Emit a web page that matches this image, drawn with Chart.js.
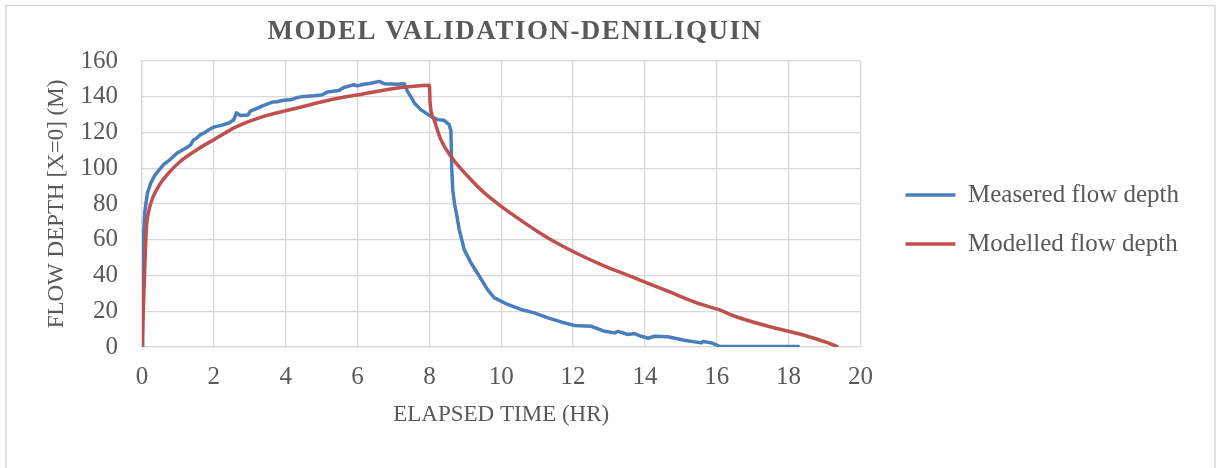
<!DOCTYPE html>
<html>
<head>
<meta charset="utf-8">
<script src="https://cdn.jsdelivr.net/npm/chart.js@4.4.1/dist/chart.umd.min.js"></script>
<style>
  html, body { margin: 0; padding: 0; background: #ffffff; }
  canvas { display: block; }
</style>
</head>
<body>
<canvas id="myChart" width="1218" height="468"></canvas>
<script>
const chartTitle = 'MODEL VALIDATION-DENILIQUIN';
const xTitle = 'ELAPSED TIME (HR)';
const yTitle = 'FLOW DEPTH [X=0] (M)';
const seriesNames = ['Measered flow depth', 'Modelled flow depth'];

// measured depth at the gauge, hours / m
const measuredTime = [0, 0.02, 0.04, 0.08, 0.15, 0.25, 0.37, 0.6, 0.79, 0.98, 1.2, 1.35, 1.44, 1.5,
  1.63, 1.75, 1.86, 1.95, 2.0, 2.2, 2.42, 2.55, 2.63, 2.74, 2.95, 3.02, 3.2, 3.39, 3.63, 3.76,
  3.94, 4.14, 4.33, 4.5, 4.79, 5.0, 5.16, 5.48, 5.62, 5.81, 5.9, 5.99, 6.18, 6.37, 6.6, 6.74,
  7.11, 7.3, 7.39, 7.5, 7.58, 7.76, 8.04, 8.23, 8.41, 8.55, 8.6, 8.62, 8.65, 8.7, 8.76, 8.83,
  8.97, 9.16, 9.39, 9.62, 9.81, 10.18, 10.55, 10.92, 11.3, 11.76, 12.04, 12.5, 12.88, 13.15,
  13.25, 13.53, 13.71, 13.9, 14.09, 14.27, 14.64, 15.1, 15.57, 15.62, 15.85, 16.08, 16.7, 18.27];
const measuredDepth = [0, 40, 62, 76, 86, 92, 96.5, 102, 105, 108.5, 111, 113, 116, 116.5,
  118.8, 120, 121.5, 122.5, 123, 124, 125.3, 127, 131, 129.5, 129.8, 132, 133.5, 135.2, 137, 137.2,
  138, 138.3, 139.6, 140.2, 140.6, 141, 142.6, 143.5, 145.2, 146.2, 146.7, 146.1, 147, 147.6, 148.6, 147.3,
  147, 147.3, 143, 139.5, 136.5, 132.8, 129, 127.2, 126.8, 124.4, 121, 101, 88, 80, 74, 65.7,
  54.5, 47, 39.6, 32.1, 27.5, 23.8, 21, 19.1, 16.3, 13.5, 12, 11.6, 8.8, 7.9,
  8.7, 7, 7.5, 6, 4.9, 6, 5.7, 3.8, 2.3, 3.1, 2.3, 0.4, 0.3, 0.3];

// model output at x = 0
const modelTime = [0, 0.07, 0.12, 0.2, 0.3, 0.46, 0.7, 1.07, 1.53, 2.0, 2.65, 3.39, 4.32, 5.25,
  6.18, 7.11, 8.0, 8.02, 8.13, 8.32, 8.6, 9.07, 9.53, 10.0, 10.3, 10.64, 11.0, 11.3, 11.6, 12.04,
  12.78, 13.71, 14.64, 15.57, 16.04, 16.5, 17.43, 18.36, 19.1, 19.34];
const modelDepth = [0, 40, 65.7, 77, 83.5, 89.9, 96.4, 103.9, 110.4, 116, 123.4, 129, 133.7, 138.3,
  141.7, 144.9, 146.5, 136.5, 127.2, 116, 106.6, 95.5, 86.2, 78.7, 74.3, 69.6, 64.8, 61, 57.6, 53,
  46.1, 38.7, 31.2, 23.8, 21, 17.2, 11.6, 7, 2.3, 0.4];

const toPoints = (xs, ys) => xs.map((x, i) => ({ x: x, y: ys[i] }));

const serif = "'Liberation Serif', 'Times New Roman', serif";
const textGrey = '#595959';
const gridGrey = '#d9d9d9';

Chart.defaults.font.family = serif;
Chart.defaults.color = textGrey;

// light frame round the whole chart + spaced-out heading
const framePlugin = {
  id: 'frame',
  beforeDraw(chart) {
    const ctx = chart.ctx;
    ctx.save();
    ctx.strokeStyle = gridGrey;
    ctx.lineWidth = 1.5;
    ctx.strokeRect(6, 5.5, 1209, 470);
    ctx.restore();
  },
  afterDraw(chart) {
    const ctx = chart.ctx;
    ctx.save();
    ctx.font = 'bold 27px ' + serif;
    ctx.fillStyle = textGrey;
    ctx.textAlign = 'center';
    ctx.textBaseline = 'middle';
    ctx.letterSpacing = '1.5px';
    ctx.fillText(chartTitle, 515, 32);
    ctx.restore();
  }
};

const ctx = document.getElementById('myChart');
new Chart(ctx, {
  type: 'scatter',
  data: {
    datasets: [{
      label: seriesNames[0],
      data: toPoints(measuredTime, measuredDepth),
      showLine: true,
      borderColor: '#4a7ebb',
      backgroundColor: '#4a7ebb',
      borderWidth: 3.5,
      borderCapStyle: 'round',
      borderJoinStyle: 'round',
      pointRadius: 0,
      order: 1
    }, {
      label: seriesNames[1],
      data: toPoints(modelTime, modelDepth),
      showLine: true,
      borderColor: '#c0504d',
      backgroundColor: '#c0504d',
      borderWidth: 3.5,
      borderCapStyle: 'round',
      borderJoinStyle: 'round',
      cubicInterpolationMode: 'monotone',
      pointRadius: 0,
      order: 0
    }]
  },
  options: {
    responsive: false,
    animation: false,
    devicePixelRatio: 1,
    layout: { padding: { top: 61, left: 6, right: 29, bottom: 39 } },
    scales: {
      x: {
        type: 'linear',
        min: 0,
        max: 20,
        ticks: { stepSize: 2, padding: 15, font: { size: 25 } },
        grid: { color: gridGrey, lineWidth: 1.3, drawTicks: false },
        border: { color: gridGrey, width: 1.3 },
        title: { display: true, text: xTitle, font: { size: 23 }, padding: { top: 9, bottom: 0 } },
        afterFit(scale) { scale.height = 82; }
      },
      y: {
        min: 0,
        max: 160,
        ticks: { stepSize: 20, padding: 24, font: { size: 25 } },
        grid: { color: gridGrey, lineWidth: 1.3, drawTicks: false },
        border: { color: gridGrey, width: 1.3 },
        title: { display: true, text: yTitle, font: { size: 23 }, padding: { top: 37, bottom: 9 } },
        afterFit(scale) { scale.width = 136; }
      },
      // empty axis, only keeps a gap between plot and legend
      gap: {
        axis: 'y',
        position: 'right',
        min: 0,
        max: 1,
        grid: { display: false },
        border: { display: false },
        ticks: { display: false },
        afterFit(scale) { scale.width = 21; }
      }
    },
    plugins: {
      legend: {
        position: 'right',
        fullSize: false,
        maxWidth: 330,
        // blank title pushes the two entries a bit lower
        title: { display: true, text: '', font: { size: 12 }, padding: { top: 16.6, bottom: 0 } },
        labels: {
          usePointStyle: true,
          pointStyle: 'line',
          pointStyleWidth: 50,
          padding: 24,
          color: textGrey,
          font: { size: 25 },
          sort: (a, b) => a.datasetIndex - b.datasetIndex
        }
      },
      tooltip: { enabled: false }
    }
  },
  plugins: [framePlugin]
});
</script>
</body>
</html>
